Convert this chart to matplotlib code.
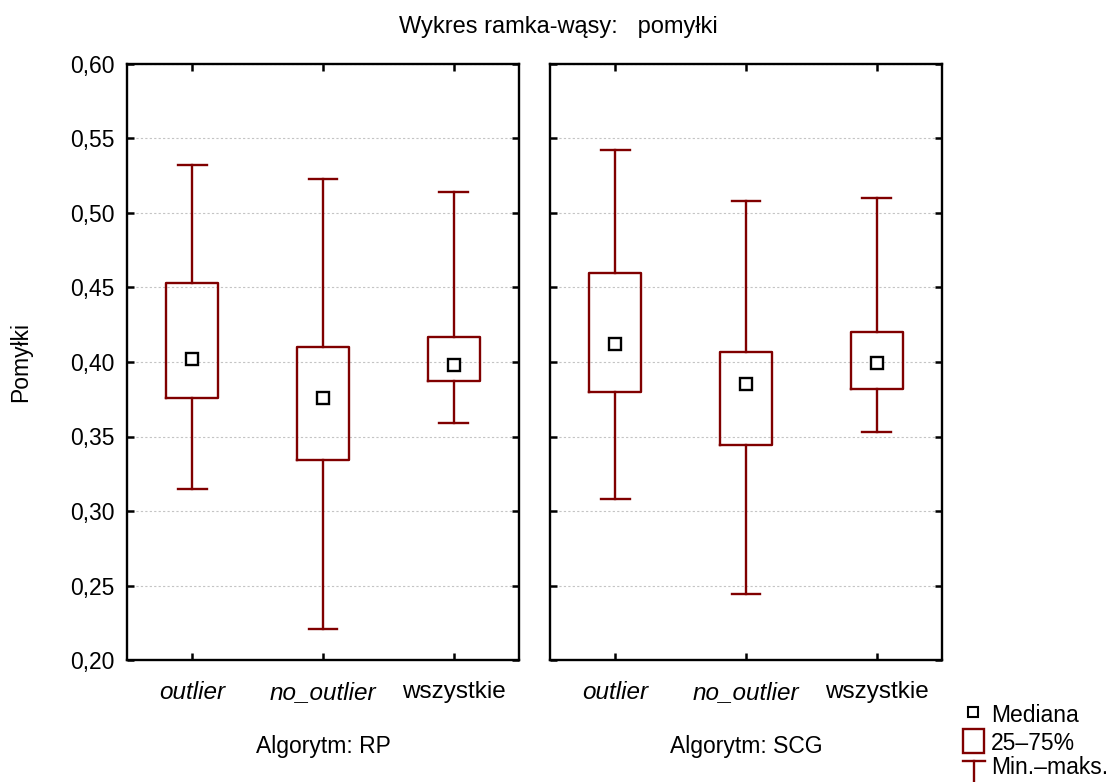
import matplotlib
matplotlib.use("Agg")
import matplotlib.pyplot as plt
from matplotlib.lines import Line2D
from matplotlib.patches import Rectangle
from matplotlib.ticker import FuncFormatter, MultipleLocator

plt.rcParams["font.family"] = ["Liberation Sans", "DejaVu Sans"]

# Box-whisker stats: min, q1, median, q3, max
groups = ["outlier", "no_outlier", "wszystkie"]
panels = ["Algorytm: RP", "Algorytm: SCG"]

rp_min = [0.315, 0.221, 0.359]
rp_q1 = [0.376, 0.334, 0.387]
rp_med = [0.402, 0.376, 0.398]
rp_q3 = [0.453, 0.410, 0.417]
rp_max = [0.532, 0.523, 0.514]

scg_min = [0.308, 0.244, 0.353]
scg_q1 = [0.380, 0.344, 0.382]
scg_med = [0.412, 0.385, 0.399]
scg_q3 = [0.460, 0.407, 0.420]
scg_max = [0.542, 0.508, 0.510]

RED = "#800000"
W, H = 1117, 782


def stats(lo, q1, med, q3, hi):
    return [dict(whislo=a, q1=b, med=c, q3=d, whishi=e, fliers=[])
            for a, b, c, d, e in zip(lo, q1, med, q3, hi)]


fig = plt.figure(figsize=(W / 100, H / 100), dpi=100)
ax_l = fig.add_axes([127 / W, 1 - 660 / H, 392 / W, 596 / H])
ax_r = fig.add_axes([550 / W, 1 - 660 / H, 392 / W, 596 / H])

data = [
    (ax_l, stats(rp_min, rp_q1, rp_med, rp_q3, rp_max), rp_med),
    (ax_r, stats(scg_min, scg_q1, scg_med, scg_q3, scg_max), scg_med),
]
pos = list(range(len(groups)))

for i, (ax, st, med) in enumerate(data):
    ax.bxp(st, positions=pos, widths=0.4, capwidths=0.22, showfliers=False,
           boxprops=dict(color=RED, linewidth=1.7),
           whiskerprops=dict(color=RED, linewidth=1.7),
           capprops=dict(color=RED, linewidth=1.7),
           medianprops=dict(linewidth=0))
    ax.plot(pos, med, linestyle="none", marker="s", markersize=8.5,
            markerfacecolor="white", markeredgecolor="black",
            markeredgewidth=1.7, zorder=5)

    ax.set_xlim(-0.5, 2.5)
    ax.set_ylim(0.20, 0.60)
    ax.yaxis.set_major_locator(MultipleLocator(0.05))
    ax.yaxis.set_major_formatter(
        FuncFormatter(lambda v, _: f"{v:.2f}".replace(".", ",")))
    ax.yaxis.grid(True, linestyle=(0, (2, 2)), color="#c4c4c4",
                  linewidth=0.8)
    ax.set_axisbelow(True)
    ax.tick_params(direction="in", length=5, width=1.8, top=True,
                   right=True)
    ax.tick_params(axis="y", labelsize=16.5, pad=9)
    ax.tick_params(axis="x", labelsize=17.5, pad=15)
    for sp in ax.spines.values():
        sp.set_linewidth(1.7)
    ax.set_xticks(pos)
    ax.set_xticklabels(groups)
    for lbl in ax.get_xticklabels()[:2]:
        lbl.set_style("italic")
    if i == 1:
        ax.tick_params(labelleft=False)
    bb = ax.get_position()
    fig.text((bb.x0 + bb.x1) / 2, 1 - 747 / H, panels[i], fontsize=16.5,
             ha="center", va="center")

fig.text(21 / W, 1 - 362 / H, "Pomyłki", fontsize=16.5, rotation=90,
         ha="center", va="center")

fig.text(0.5, 1 - 27 / H, "Wykres ramka-wąsy:   pomyłki", ha="center",
         va="center", fontsize=17)

# legend drawn by hand at lower right
fig.add_artist(Line2D([972.5 / W], [1 - 711.5 / H], marker="s",
                      markersize=7.5, markerfacecolor="white",
                      markeredgecolor="black", markeredgewidth=1.5,
                      linestyle="none"))
fig.add_artist(Rectangle((963 / W, 1 - 753 / H), 21 / W, 24 / H,
                         facecolor="none", edgecolor=RED, linewidth=1.7))
fig.add_artist(Line2D([963 / W, 985 / W], [1 - 761 / H, 1 - 761 / H],
                      color=RED, linewidth=1.7))
fig.add_artist(Line2D([974 / W, 974 / W], [1 - 761 / H, 1 - 782 / H],
                      color=RED, linewidth=1.7))
fig.text(991 / W, 1 - 716 / H, "Mediana", fontsize=16.5, va="center")
fig.text(991 / W, 1 - 743 / H, "25–75%", fontsize=16.5, va="center")
fig.text(991 / W, 1 - 768 / H, "Min.–maks.", fontsize=16.5, va="center")

fig.savefig("out.png", dpi=100)
